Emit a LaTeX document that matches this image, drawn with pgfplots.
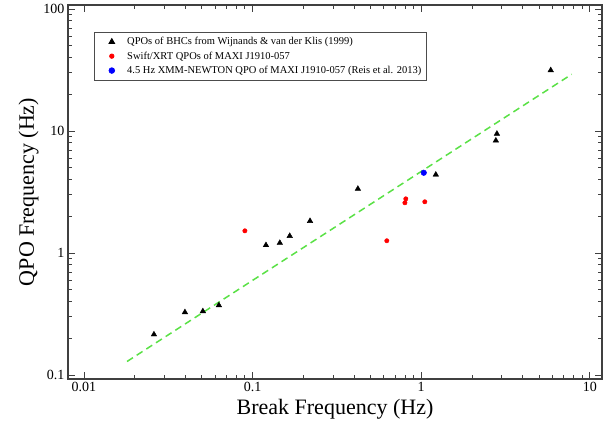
\documentclass[border=0pt]{standalone}
\usepackage{fontspec}
\setmainfont{Liberation Serif}
\usepackage{pgfplots}
\pgfplotsset{compat=1.18}
\definecolor{fitgreen}{RGB}{90,225,70}
\begin{document}
\begin{tikzpicture}
\begin{loglogaxis}[
  scale only axis, width=534pt, height=374pt,
  xmin=0.00804, xmax=11.8, ymin=0.0927, ymax=108,
  xtick={0.01,0.1,1,10}, ytick={0.1,1,10,100},
  log ticks with fixed point,
  /pgf/number format/assume math mode=true,
  axis line style={line width=1.2pt, color=black!75},
  every tick/.style={black!75, line width=0.8pt},
  major tick length=7pt, minor tick length=4pt,
  tick label style={font=\fontsize{14}{14}\selectfont},
  xlabel={Break Frequency (Hz)}, ylabel={QPO Frequency (Hz)},
  label style={font=\fontsize{22}{24}\selectfont},
  xlabel style={yshift=0pt},
  ylabel style={yshift=-2pt},
  legend style={at={(0.0487,0.928)}, anchor=north west, draw=black!70, line width=0.8pt,
    font=\fontsize{10.5}{12}\selectfont, row sep=1.5pt, inner xsep=3pt, inner ysep=3pt},
  legend image code/.code={\path (0pt,0pt) (27pt,0pt); \draw[#1] plot coordinates {(14pt,0pt)};},
  legend cell align=left,
]
\addplot[only marks, mark=triangle*, mark size=3.2pt, black] coordinates {
 (0.026,0.215) (0.0397,0.327) (0.0507,0.333) (0.0631,0.373)
 (0.120,1.16) (0.145,1.21) (0.166,1.38) (0.219,1.83)
 (0.421,3.36) (1.22,4.39) (2.81,9.5) (2.77,8.35) (5.86,31.5)
};
\addlegendentry{QPOs of BHCs from Wijnands \& van der Klis (1999)}
\addplot[only marks, mark=*, mark size=2.2pt, red] coordinates {
 (0.090,1.52) (0.625,1.26) (0.81,2.78) (0.80,2.58) (1.05,2.63)
};
\addlegendentry{Swift/XRT QPOs of MAXI J1910-057}
\addplot[only marks, mark=*, mark size=2.8pt, blue] coordinates {
 (1.035,4.55)
};
\addlegendentry{4.5 Hz XMM-NEWTON QPO of MAXI J1910-057 (Reis et al. 2013)}
\addplot[forget plot, no marks, fitgreen, line width=1.5pt, dash pattern=on 7pt off 4.5pt] coordinates {
 (0.018,0.129) (7.8,29.2)
};
\end{loglogaxis}
\path ([shift={(-68pt,-49pt)}]current axis.south west) rectangle ([shift={(14pt,5pt)}]current axis.north east);
\end{tikzpicture}
\end{document}
